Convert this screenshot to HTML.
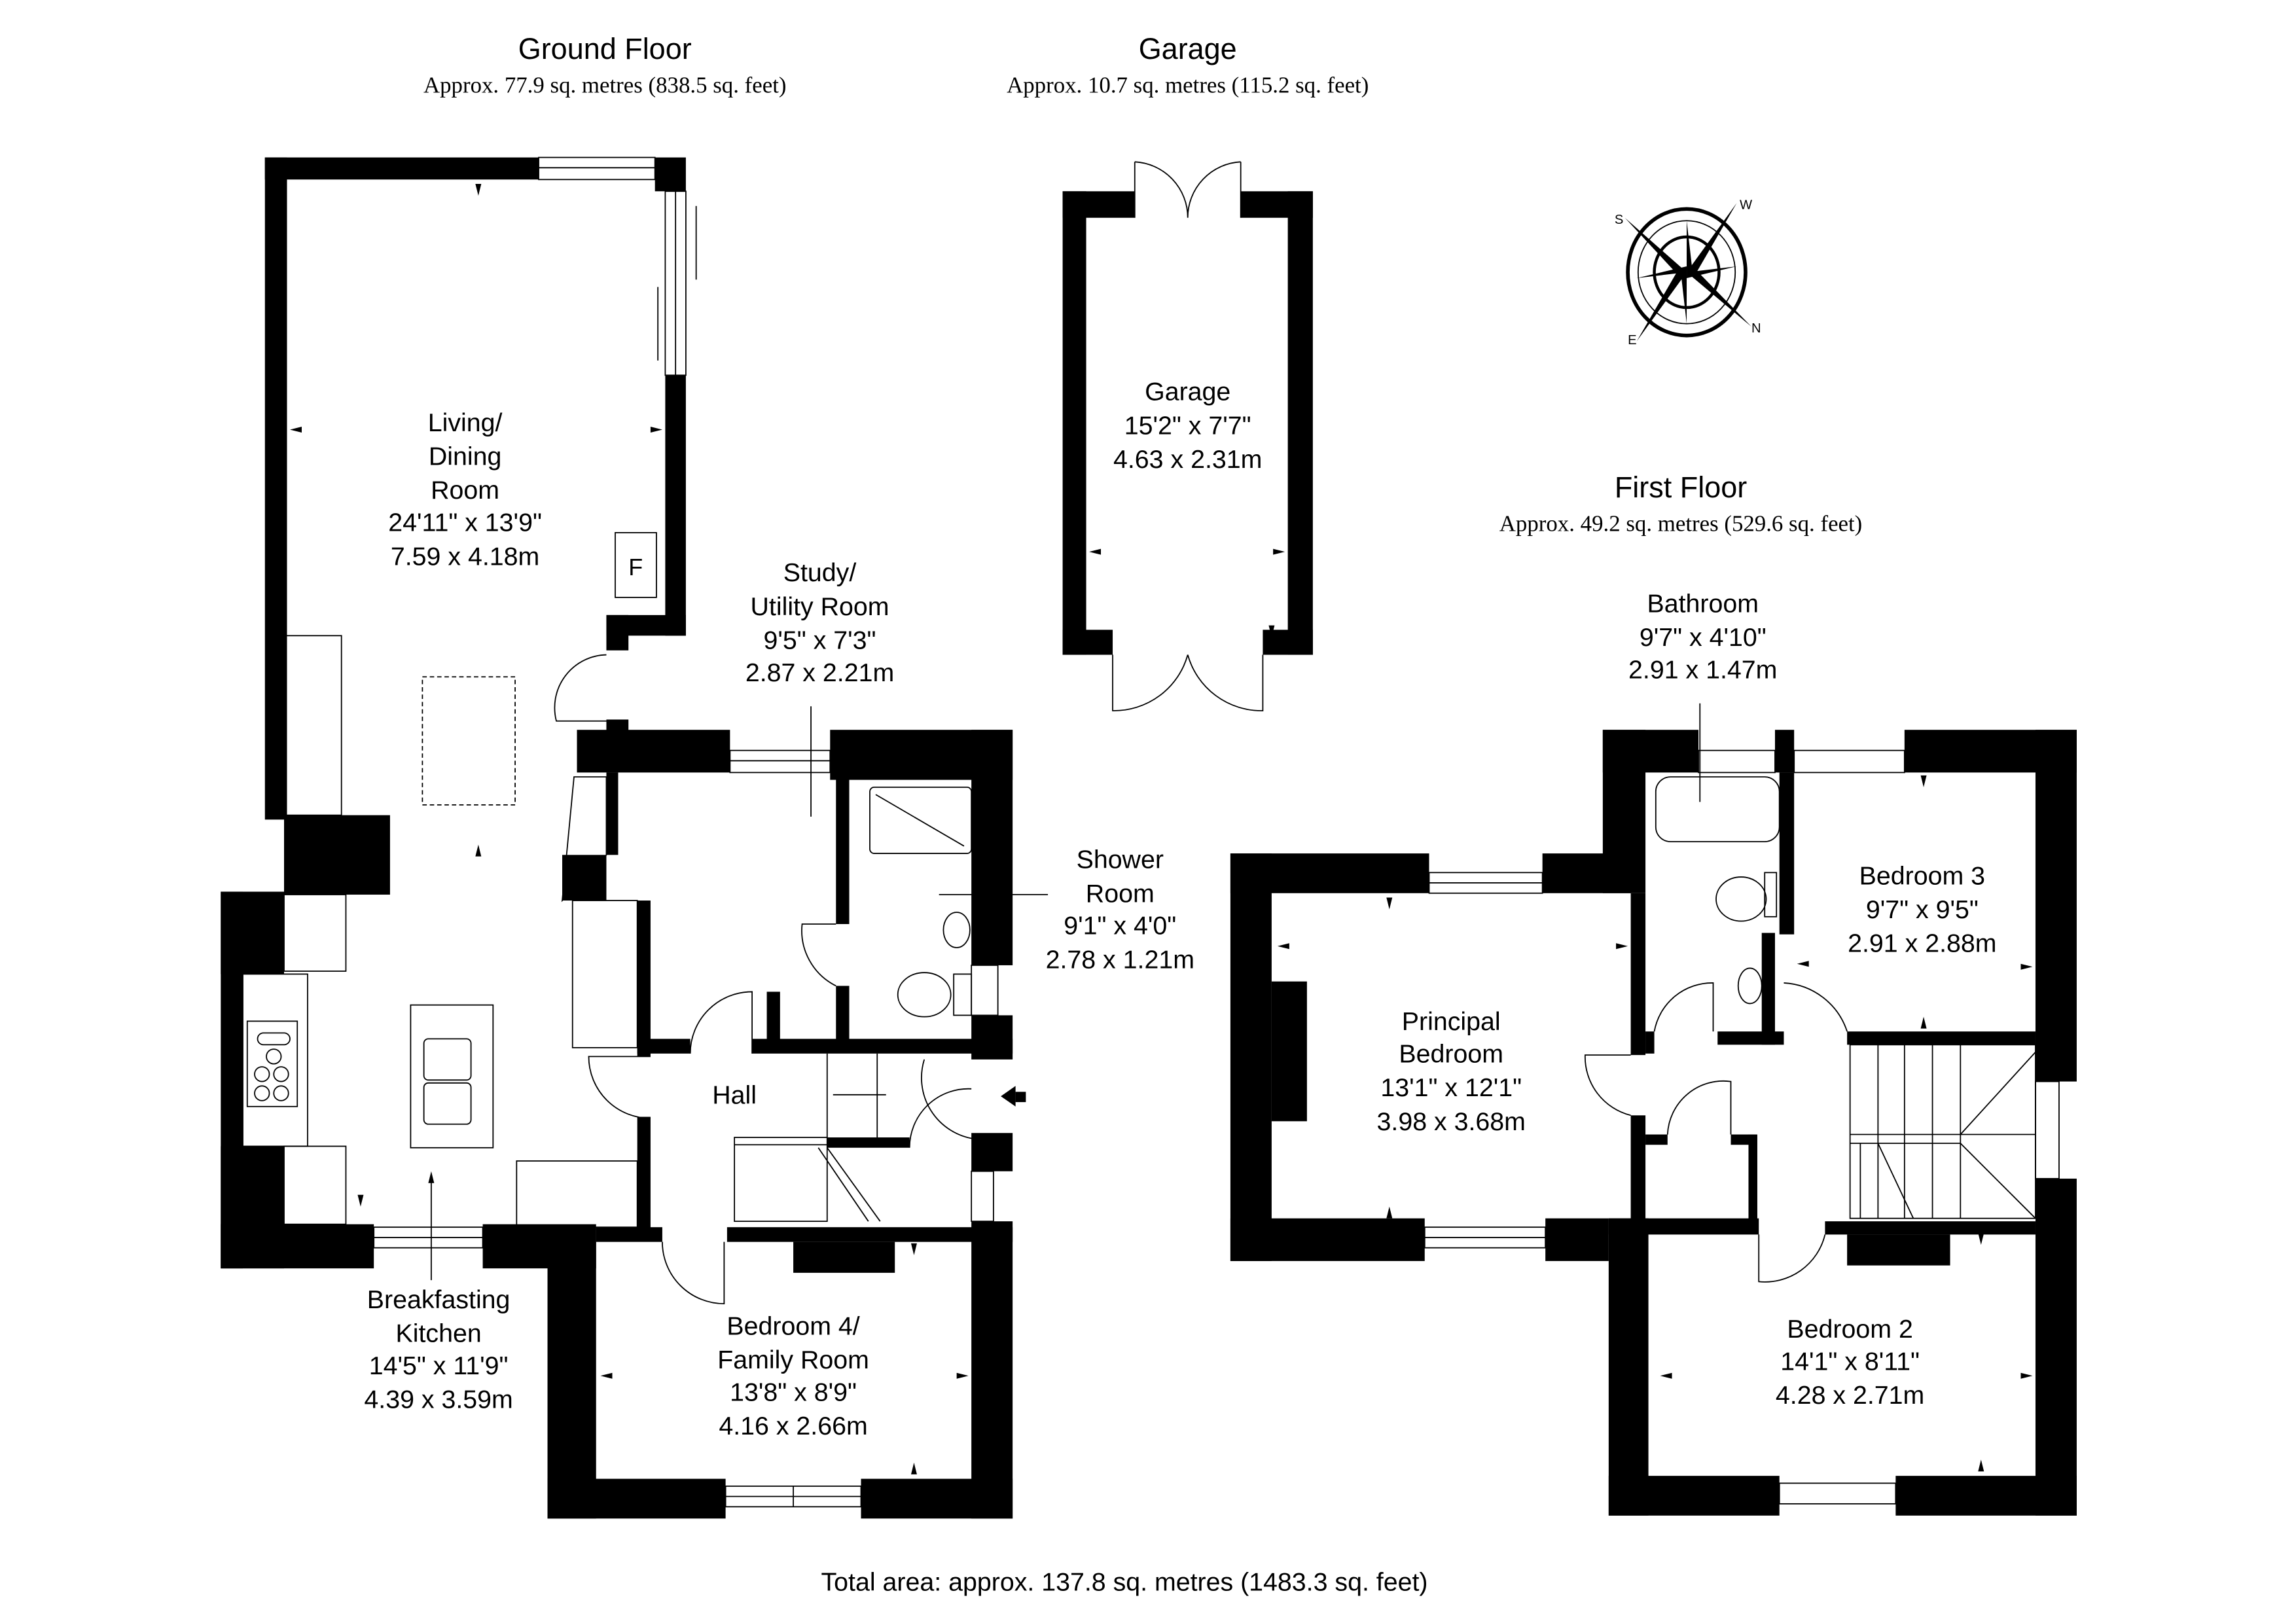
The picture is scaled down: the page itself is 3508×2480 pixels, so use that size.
<!DOCTYPE html>
<html><head><meta charset="utf-8"><style>
html,body{margin:0;padding:0;background:#fff;}
svg{display:block;}
text{font-family:"Liberation Sans",sans-serif;fill:#000;}
.t{font-size:20px;text-anchor:middle;}
.s{font-family:"Liberation Serif",serif;font-size:15.5px;text-anchor:middle;}
.r{font-size:17.5px;text-anchor:middle;}
.l{fill:none;stroke:#000;stroke-width:0.8;}
</style></head><body>
<svg width="3508" height="2480" viewBox="0 0 1560 1103" preserveAspectRatio="none" xmlns="http://www.w3.org/2000/svg">
<rect width="1560" height="1103" fill="#fff"/>
<!-- Titles -->
<text class="t" x="411" y="40">Ground Floor</text>
<text class="s" x="411" y="63">Approx. 77.9 sq. metres (838.5 sq. feet)</text>
<text class="t" x="807" y="40">Garage</text>
<text class="s" x="807" y="63">Approx. 10.7 sq. metres (115.2 sq. feet)</text>
<text class="t" x="1142" y="338">First Floor</text>
<text class="s" x="1142" y="361">Approx. 49.2 sq. metres (529.6 sq. feet)</text>
<text class="r" x="764" y="1081">Total area: approx. 137.8 sq. metres (1483.3 sq. feet)</text>

<g fill="#000">
<!-- Living room -->
<rect x="180" y="107" width="15" height="450"/>
<rect x="180" y="107" width="186" height="15"/>
<rect x="445" y="107" width="21" height="23"/>
<rect x="452" y="255" width="14" height="177"/>
<rect x="412" y="418" width="54" height="14"/>
<rect x="412" y="418" width="15" height="24"/>
<!-- chimney -->
<rect x="193" y="554" width="72" height="54"/>
<!-- kitchen -->
<rect x="150" y="606" width="43" height="56"/>
<rect x="150" y="606" width="15" height="256"/>
<rect x="150" y="779" width="43" height="83"/>
<rect x="150" y="832" width="104" height="30"/>
<rect x="328" y="832" width="77" height="30"/>
<!-- study -->
<rect x="392" y="496" width="104" height="29"/>
<rect x="412" y="489" width="15" height="10"/>
<rect x="564" y="496" width="124" height="34"/>
<rect x="412" y="525" width="8" height="56"/>
<rect x="382" y="581" width="30" height="31"/>
<rect x="433" y="612" width="9" height="106"/>
<rect x="433" y="706" width="36" height="10"/>
<rect x="511" y="706" width="177" height="10"/>
<rect x="660" y="496" width="28" height="160"/>
<rect x="568" y="525" width="9" height="103"/>
<rect x="568" y="670" width="9" height="40"/>
<rect x="521" y="674" width="9" height="36"/>
<rect x="660" y="690" width="28" height="30"/>
<rect x="660" y="770" width="28" height="26"/>
<rect x="433" y="759" width="9" height="76"/>
<rect x="562" y="773" width="56" height="7"/>
<!-- bedroom 4 -->
<rect x="372" y="834" width="33" height="198"/>
<rect x="405" y="834" width="45" height="10"/>
<rect x="494" y="834" width="194" height="10"/>
<rect x="539" y="844" width="69" height="21"/>
<rect x="660" y="830" width="28" height="202"/>
<rect x="372" y="1005" width="121" height="27"/>
<rect x="585" y="1005" width="103" height="27"/>
<!-- Garage -->
<rect x="722" y="130" width="49" height="18"/>
<rect x="843" y="130" width="49" height="18"/>
<rect x="722" y="130" width="16" height="315"/>
<rect x="875" y="130" width="17" height="315"/>
<rect x="722" y="428" width="34" height="17"/>
<rect x="858" y="428" width="34" height="17"/>
<!-- First floor -->
<rect x="836" y="580" width="28" height="277"/>
<rect x="864" y="667" width="24" height="95"/>
<rect x="836" y="580" width="135" height="27"/>
<rect x="1048" y="580" width="60" height="27"/>
<rect x="1089" y="496" width="29" height="111"/>
<rect x="1089" y="496" width="65" height="29"/>
<rect x="1206" y="496" width="13" height="29"/>
<rect x="1294" y="496" width="117" height="29"/>
<rect x="1383" y="496" width="28" height="239"/>
<rect x="1383" y="801" width="28" height="229"/>
<rect x="1108" y="607" width="10" height="110"/>
<rect x="1108" y="758" width="10" height="75"/>
<rect x="1209" y="525" width="10" height="110"/>
<rect x="1197" y="634" width="9" height="76"/>
<rect x="1167" y="701" width="45" height="9"/>
<rect x="1118" y="701" width="6" height="15"/>
<rect x="1255" y="701" width="128" height="9"/>
<rect x="1118" y="771" width="15" height="7"/>
<rect x="1176" y="771" width="17" height="7"/>
<rect x="1188" y="771" width="6" height="59"/>
<rect x="836" y="828" width="132" height="29"/>
<rect x="1050" y="828" width="43" height="29"/>
<rect x="1093" y="828" width="102" height="11"/>
<rect x="1240" y="830" width="143" height="9"/>
<rect x="1255" y="839" width="70" height="21"/>
<rect x="1093" y="828" width="27" height="202"/>
<rect x="1093" y="1003" width="116" height="27"/>
<rect x="1288" y="1003" width="123" height="27"/>
</g>

<g class="l">
<!-- windows -->
<rect x="366" y="107" width="79" height="15"/><line x1="366" y1="114" x2="445" y2="114"/>
<rect x="452" y="130" width="14" height="125"/><line x1="459" y1="130" x2="459" y2="255"/>
<line x1="473" y1="140" x2="473" y2="190"/><line x1="447" y1="195" x2="447" y2="245"/>
<rect x="254" y="834" width="74" height="14"/><line x1="254" y1="841" x2="328" y2="841"/>
<rect x="496" y="510" width="68" height="15"/><line x1="496" y1="517" x2="564" y2="517"/>
<rect x="493" y="1010" width="92" height="14"/><line x1="493" y1="1017" x2="585" y2="1017"/><line x1="539" y1="1010" x2="539" y2="1024"/>
<rect x="660" y="656" width="18" height="34"/><rect x="660" y="796" width="15" height="34"/>
<rect x="971" y="593" width="77" height="14"/><line x1="971" y1="600" x2="1048" y2="600"/>
<rect x="968" y="834" width="82" height="14"/><line x1="968" y1="841" x2="1050" y2="841"/>
<rect x="1154" y="510" width="52" height="15"/><rect x="1219" y="510" width="75" height="15"/>
<rect x="1209" y="1008" width="79" height="14"/>
<rect x="1383" y="735" width="16" height="66"/>
<!-- doors -->
<path d="M412 445 A36 36 0 0 0 378 490 L412 490"/>
<path d="M771 110 L771 148 M771 110 A38 38 0 0 1 807 148 M843 110 L843 148 M843 110 A38 38 0 0 0 807 148"/>
<path d="M756 445 L756 483 A52 52 0 0 0 807 445 M858 445 L858 483 A52 52 0 0 1 807 445"/>
<path d="M442 718 L400 718 A42 42 0 0 0 442 760"/>
<path d="M469 716 A42 42 0 0 1 511 674 L511 716"/>
<path d="M450 844 A42 42 0 0 0 492 886 L492 844"/>
<path d="M568 628 L545 628 A42 42 0 0 0 568 670"/>
<path d="M618 780 A40 40 0 0 1 660 740"/><path d="M628 720 A42 42 0 0 0 662 774"/>
<path d="M1108 717 L1077 717 A41 41 0 0 0 1108 758"/>
<path d="M1124 701 A40 40 0 0 1 1164 668 L1164 701"/>
<path d="M1133 771 A38 38 0 0 1 1176 735 L1176 771"/>
<path d="M1212 668 A48 48 0 0 1 1255 701"/>
<path d="M1195 839 L1195 871 A42 42 0 0 0 1240 839"/>
<!-- fixtures -->
<rect x="193" y="432" width="39" height="122"/>
<rect x="287" y="460" width="63" height="87" stroke-dasharray="3,2"/>
<rect x="193" y="608" width="42" height="52"/><rect x="165" y="662" width="44" height="117"/>
<rect x="168" y="694" width="34" height="58"/>
<circle cx="178" cy="730" r="5"/><circle cx="191" cy="730" r="5"/><circle cx="178" cy="743" r="5"/><circle cx="191" cy="743" r="5"/><circle cx="186" cy="718" r="5"/><rect x="175" y="702" width="22" height="8" rx="4"/>
<rect x="193" y="779" width="42" height="53"/>
<rect x="279" y="683" width="56" height="97"/><rect x="288" y="706" width="32" height="28" rx="3"/><rect x="288" y="736" width="32" height="28" rx="3"/>
<rect x="351" y="789" width="82" height="45"/>
<polygon points="382,612 390,528 412,528 412,581"/>
<rect x="389" y="612" width="44" height="100"/>
<rect x="591" y="535" width="69" height="45" rx="3"/><line x1="595" y1="540" x2="655" y2="575"/>
<ellipse cx="650" cy="632" rx="9" ry="12"/>
<ellipse cx="628" cy="676" rx="18" ry="15"/><rect x="648" y="662" width="12" height="28"/>
<rect x="499" y="773" width="63" height="57"/><line x1="499" y1="778" x2="562" y2="778"/>
<line x1="562" y1="716" x2="562" y2="773"/><line x1="596" y1="716" x2="596" y2="773"/>
<line x1="562" y1="780" x2="598" y2="830"/><line x1="556" y1="780" x2="590" y2="830"/>
<rect x="1125" y="528" width="84" height="44" rx="10"/>
<ellipse cx="1183" cy="611" rx="17" ry="15"/><rect x="1199" y="593" width="8" height="30"/>
<ellipse cx="1189" cy="670" rx="8" ry="12"/>
<rect x="1257" y="710" width="126" height="118"/>
<line x1="1257" y1="771" x2="1383" y2="771"/><line x1="1257" y1="777" x2="1332" y2="777"/>
<line x1="1276" y1="710" x2="1276" y2="828"/><line x1="1294" y1="710" x2="1294" y2="828"/><line x1="1313" y1="710" x2="1313" y2="828"/><line x1="1332" y1="710" x2="1332" y2="828"/>
<line x1="1332" y1="771" x2="1383" y2="715"/><line x1="1332" y1="777" x2="1383" y2="828"/>
<line x1="1276" y1="777" x2="1300" y2="828"/><line x1="1264" y1="777" x2="1264" y2="828"/>
<!-- compass -->
<ellipse cx="1146" cy="185" rx="40" ry="43" stroke-width="2.5"/>
<ellipse cx="1146" cy="185" rx="33" ry="35"/><ellipse cx="1146" cy="185" rx="22" ry="24" stroke-width="2"/>
</g>
<g fill="#000">
<polygon points="1146,185 1180,138 1151,188"/><polygon points="1146,185 1112,232 1141,182"/>
<polygon points="1146,185 1104,148 1143,190"/><polygon points="1146,185 1190,222 1149,180"/>
<polygon points="1146,185 1146,150 1150,185"/><polygon points="1146,185 1146,220 1142,185"/>
<polygon points="1146,185 1180,181 1146,189"/><polygon points="1146,185 1112,189 1146,181"/>
<text x="1182" y="142" font-family="Liberation Serif" font-size="9">W</text>
<text x="1097" y="152" font-family="Liberation Serif" font-size="9">S</text>
<text x="1190" y="226" font-family="Liberation Serif" font-size="9">N</text>
<text x="1106" y="234" font-family="Liberation Serif" font-size="9">E</text>
<text x="427" y="391" font-size="16">F</text>
</g>
<rect x="418" y="362" width="28" height="44" fill="none" stroke="#000" stroke-width="0.8"/>
<!-- dimension arrows -->
<g fill="#000">
<polygon points="323,125 327,125 325,133"/><polygon points="323,582 327,582 325,574"/>
<polygon points="197,292 205,290 205,294"/><polygon points="450,292 442,290 442,294"/>
<polygon points="862,146 866,146 864,138"/><polygon points="862,425 866,425 864,433"/>
<polygon points="740,375 748,373 748,377"/><polygon points="873,375 865,373 865,377"/>
<polygon points="243,812 247,812 245,820"/><polygon points="291,804 295,804 293,796"/>
<polygon points="408,935 416,933 416,937"/><polygon points="658,935 650,933 650,937"/>
<polygon points="619,845 623,845 621,853"/><polygon points="619,1002 623,1002 621,994"/>
<polygon points="942,610 946,610 944,618"/><polygon points="942,828 946,828 944,820"/>
<polygon points="868,643 876,641 876,645"/><polygon points="1106,643 1098,641 1098,645"/>
<polygon points="1128,935 1136,933 1136,937"/><polygon points="1381,935 1373,933 1373,937"/>
<polygon points="1344,838 1348,838 1346,846"/><polygon points="1344,1000 1348,1000 1346,992"/>
<polygon points="1305,527 1309,527 1307,535"/><polygon points="1305,699 1309,699 1307,691"/>
<polygon points="1221,655 1229,653 1229,657"/><polygon points="1381,657 1373,655 1373,659"/>
<polygon points="680,745 690,738 690,752"/><rect x="690" y="742" width="7" height="7"/>
</g>
<g class="l"><line x1="551" y1="480" x2="551" y2="555"/><line x1="293" y1="800" x2="293" y2="870"/><line x1="1155" y1="478" x2="1155" y2="545"/><line x1="638" y1="608" x2="712" y2="608"/><line x1="566" y1="744" x2="602" y2="744"/></g>

<!-- Room labels -->
<g class="r">
<text x="316" y="293">Living/</text><text x="316" y="316">Dining</text><text x="316" y="339">Room</text><text x="316" y="361">24'11" x 13'9"</text><text x="316" y="384">7.59 x 4.18m</text>
<text x="557" y="395">Study/</text><text x="557" y="418">Utility Room</text><text x="557" y="441">9'5" x 7'3"</text><text x="557" y="463">2.87 x 2.21m</text>
<text x="807" y="272">Garage</text><text x="807" y="295">15'2" x 7'7"</text><text x="807" y="318">4.63 x 2.31m</text>
<text x="761" y="590">Shower</text><text x="761" y="613">Room</text><text x="761" y="635">9'1" x 4'0"</text><text x="761" y="658">2.78 x 1.21m</text>
<text x="499" y="750">Hall</text>
<text x="298" y="889">Breakfasting</text><text x="298" y="912">Kitchen</text><text x="298" y="934">14'5" x 11'9"</text><text x="298" y="957">4.39 x 3.59m</text>
<text x="539" y="907">Bedroom 4/</text><text x="539" y="930">Family Room</text><text x="539" y="952">13'8" x 8'9"</text><text x="539" y="975">4.16 x 2.66m</text>
<text x="1157" y="416">Bathroom</text><text x="1157" y="439">9'7" x 4'10"</text><text x="1157" y="461">2.91 x 1.47m</text>
<text x="1306" y="601">Bedroom 3</text><text x="1306" y="624">9'7" x 9'5"</text><text x="1306" y="647">2.91 x 2.88m</text>
<text x="986" y="700">Principal</text><text x="986" y="722">Bedroom</text><text x="986" y="745">13'1" x 12'1"</text><text x="986" y="768">3.98 x 3.68m</text>
<text x="1257" y="909">Bedroom 2</text><text x="1257" y="931">14'1" x 8'11"</text><text x="1257" y="954">4.28 x 2.71m</text>
</g>
</svg>
</body></html>
